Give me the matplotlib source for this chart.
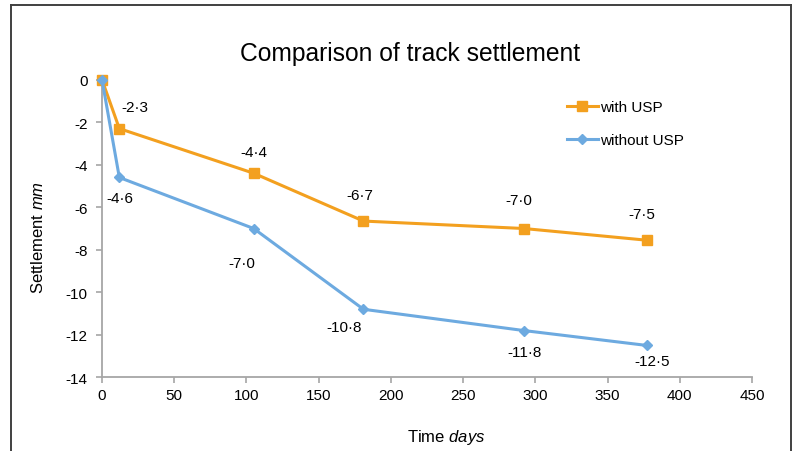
import matplotlib
matplotlib.use("Agg")
import matplotlib.pyplot as plt
from matplotlib.lines import Line2D

plt.rcParams['font.family'] = ['Liberation Sans', 'DejaVu Sans']
plt.rcParams['mathtext.fontset'] = 'custom'
plt.rcParams['mathtext.rm'] = 'Liberation Sans'
plt.rcParams['mathtext.it'] = 'Liberation Sans:italic'

# ---- data ----
days = [0, 12, 105, 181, 292, 377]
with_usp = [0, -2.3, -4.4, -6.65, -7.0, -7.55]
without_usp = [0, -4.6, -7.0, -10.8, -11.8, -12.5]
with_labels = [None, "-2·3", "-4·4", "-6·7", "-7·0", "-7·5"]
without_labels = [None, "-4·6", "-7·0", "-10·8", "-11·8", "-12·5"]
x_ticks = [0, 50, 100, 150, 200, 250, 300, 350, 400, 450]
y_ticks = [0, -2, -4, -6, -8, -10, -12, -14]

# ---- layout / style ----
W, H = 794, 452
orange = '#F3A01F'
blue = '#6DAAE0'
axis_gray = '#A6A6A6'
# label offsets in pixels (dx, dy), y up
with_off = [None, (16, 22), (0, 21), (-4, 26), (-5, 28), (-5, 26)]
without_off = [None, (1, -21), (-12, -35), (-19, -18), (1, -21), (6, -16)]

fig = plt.figure(figsize=(W / 100, H / 100), dpi=100)
ax = fig.add_axes([102 / W, 1 - 378.3 / H, 650 / W, (378.3 - 80.7) / H])

ax.plot(days, with_usp, color=orange, lw=2.2, marker='s', ms=7,
        mec=orange, mfc=orange, label='with USP', zorder=3, clip_on=False)
ax.plot(days, without_usp, color=blue, lw=2.2, marker='D', ms=5.2,
        mec=blue, mfc=blue, label='without USP', zorder=3, clip_on=False)

for xv, yv, lab, off in zip(days, with_usp, with_labels, with_off):
    if lab:
        ax.annotate(lab, (xv, yv), xytext=off, textcoords='offset pixels',
                    ha='center', va='center', fontsize=11, color='#000000')
for xv, yv, lab, off in zip(days, without_usp, without_labels, without_off):
    if lab:
        ax.annotate(lab, (xv, yv), xytext=off, textcoords='offset pixels',
                    ha='center', va='center', fontsize=11, color='#000000')

ax.set_xlim(0, 450)
ax.set_ylim(-14, 0)
ax.set_xticks(x_ticks)
ax.set_yticks(y_ticks)
ax.set_xticklabels([str(t) for t in x_ticks])
ax.set_yticklabels([str(t) for t in y_ticks])
ax.tick_params(axis='both', direction='out', length=4.5, width=1.2,
               color=axis_gray, labelsize=11, labelcolor='#000000')
ax.tick_params(axis='y', pad=6)
ax.tick_params(axis='x', pad=3)
for s in ['top', 'right']:
    ax.spines[s].set_visible(False)
for s in ['left', 'bottom']:
    ax.spines[s].set_color(axis_gray)
    ax.spines[s].set_linewidth(1.3)

fig.text(410 / W, 1 - 54 / H, 'Comparison of track settlement',
         ha='center', va='center', fontsize=17.7, color='#000000')
fig.text(446 / W, 1 - 438 / H, r'Time $\mathit{days}$', ha='center',
         va='center', fontsize=12)
fig.text(38 / W, 1 - 237 / H, r'Settlement $\mathit{mm}$', ha='center',
         va='center', rotation=90, fontsize=12)

leg = ax.legend(loc='upper left', bbox_to_anchor=(567 / W, 1 - 101 / H),
                bbox_transform=fig.transFigure, frameon=False, fontsize=11,
                handlelength=2.0, handletextpad=0.15, labelspacing=1.25,
                borderpad=0, borderaxespad=0)

# outer frame
frame_kw = dict(color='#404040', lw=1.4, transform=fig.transFigure)
fig.add_artist(Line2D([10.5 / W, 790.5 / W], [1 - 6 / H, 1 - 6 / H], **frame_kw))
fig.add_artist(Line2D([10.5 / W, 10.5 / W], [0, 1 - 6 / H], **frame_kw))
fig.add_artist(Line2D([790.5 / W, 790.5 / W], [0, 1 - 6 / H], **frame_kw))

fig.savefig('out.png', dpi=100)
